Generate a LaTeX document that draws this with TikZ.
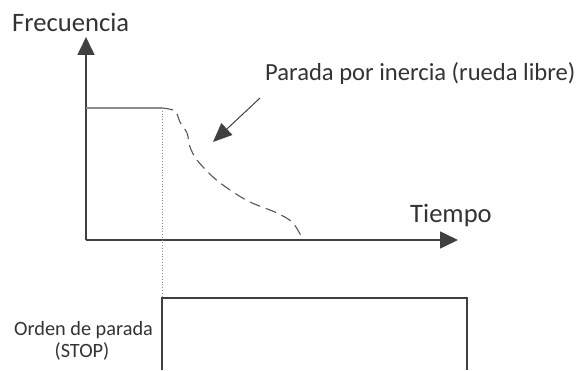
\documentclass[tikz,border=0pt]{standalone}
\usepackage{fontspec}
\setmainfont{Carlito}
\usetikzlibrary{arrows.meta}
\definecolor{ink}{HTML}{404040}
\definecolor{txt}{HTML}{333333}
\definecolor{soft}{HTML}{8C8C8C}
\definecolor{dash}{HTML}{555555}
\tikzset{
  axis/.style={draw=ink, line width=1.6pt, -{Triangle[length=18pt,width=17pt]}},
  lbl/.style={text=txt, inner sep=0pt, anchor=base west},
  bigtxt/.style={font=\fontsize{26.6}{30}\selectfont},
  midtxt/.style={font=\fontsize{24.6}{28}\selectfont},
  smalltxt/.style={font=\fontsize{20.3}{22}\selectfont},
  pointer/.style={draw=ink, line width=1pt, -{Triangle[length=19pt,width=16pt]}},
  boxline/.style={draw=ink, line width=1.3pt},
}
\begin{document}
\begin{tikzpicture}[x=1pt,y=1pt]
\useasboundingbox (0,0) rectangle (578,370);
% coordinates
\coordinate (O) at (86,130);
\coordinate (Ytop) at (86,333);
\coordinate (Xend) at (458,130);
\coordinate (P0) at (86,262);
\coordinate (P1) at (162,262);
\coordinate (B0) at (162,72);
\coordinate (BL) at (162,0);
\coordinate (BR) at (467,72);
\coordinate (BRb) at (467,0);
\coordinate (As) at (260,272);
\coordinate (Ae) at (213,228);
% axes
\draw[axis] (O) -- (Ytop);
\draw[axis] (O) -- (Xend);
% plateau
\draw[draw=soft, line width=1.3pt] (P0) -- (P1);
% coast-down curve
\draw[draw=dash, line width=1.1pt, dash pattern=on 11pt off 6pt]
  plot[smooth, tension=0.55] coordinates {(162,262) (175,259) (180,248) (187,237) (190,223) (197,210) (213,193) (230,180) (250,168) (277,157) (293,147) (303,130)};
% dotted vertical
\draw[draw=soft, line width=0.8pt, dotted] (P1) -- (B0);
% stop command box
\draw[boxline] (BL) -- (B0) -- (BR) -- (BRb);
% pointer arrow
\draw[pointer] (As) -- (Ae);
% labels
\node[lbl, bigtxt] (frec) at (12,338) {Frecuencia};
\node[lbl, bigtxt] (tiempo) at (410,148) {Tiempo};
\node[lbl, midtxt] (parada) at (265,289) {Parada por inercia (rueda libre)};
\node[text=txt, inner sep=0pt, anchor=base, smalltxt] (orden) at (83.5,35) {Orden de parada};
\node[text=txt, inner sep=0pt, anchor=base, smalltxt] (stop) at (82,13) {(STOP)};
\end{tikzpicture}
\end{document}
